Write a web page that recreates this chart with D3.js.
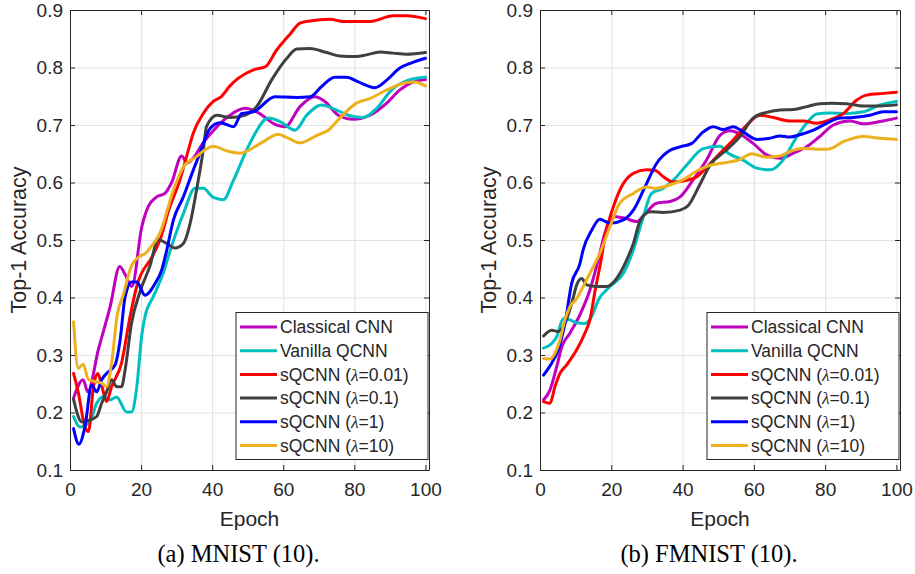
<!DOCTYPE html>
<html>
<head>
<meta charset="utf-8">
<script src="https://cdn.jsdelivr.net/npm/d3@7"></script>
<style>
  body { margin: 0; background: #fff; }
  svg { display: block; }
  text { font-family: "Liberation Sans", Arial, sans-serif; fill: #262626; }
  .caption { font-family: "Liberation Serif", "Times New Roman", serif; fill: #000; }
</style>
</head>
<body>
<div class="graph"></div>
<script>
// series labels and colors (MATLAB defaults)
const names = ['Classical CNN', 'Vanilla QCNN', 'sQCNN (λ=0.01)', 'sQCNN (λ=0.1)', 'sQCNN (λ=1)', 'sQCNN (λ=10)']
const colors = ['#bf00bf', '#00bfbf', '#ff0000', '#404040', '#0000ff', '#edb120']

const xTicks = [0, 20, 40, 60, 80, 100]
const yTicks = [0.1, 0.2, 0.3, 0.4, 0.5, 0.6, 0.7, 0.8, 0.9]

// MNIST (10): [epoch, top-1 accuracy]
const mnistCnn = [[1,0.225],[3.7,0.257],[5,0.236],[8,0.31],[11.3,0.384],[14,0.454],[15.5,0.44],[17.4,0.419],[20.2,0.523],[22,0.558],[24.4,0.575],[26.7,0.581],[28.6,0.6],[31.4,0.646],[33,0.634],[35,0.645],[37,0.665],[40.3,0.69],[45,0.717],[49.2,0.729],[52.5,0.723],[58.1,0.7],[60.5,0.697],[64.7,0.732],[68.9,0.749],[71.7,0.741],[75.5,0.717],[79.7,0.71],[84.4,0.717],[89.1,0.738],[92.8,0.761],[96.6,0.775],[100,0.779]]
const mnistVanilla = [[1,0.193],[2.8,0.175],[5.6,0.184],[7.5,0.216],[9.4,0.228],[11.2,0.222],[13.1,0.227],[15.9,0.201],[17.3,0.201],[18.8,0.245],[20.2,0.335],[21.1,0.367],[23.4,0.401],[26.2,0.442],[28.1,0.48],[31.9,0.546],[35.2,0.59],[37.5,0.59],[40.3,0.574],[43.1,0.57],[46,0.604],[50.6,0.668],[55.8,0.712],[59.1,0.706],[63.3,0.691],[66.6,0.717],[70.8,0.735],[75,0.726],[78.3,0.717],[82.5,0.713],[86.3,0.729],[90.5,0.761],[95.2,0.778],[100,0.783]]
const mnistL001 = [[1,0.268],[2.3,0.236],[4.2,0.175],[5.2,0.167],[6.6,0.245],[7.8,0.268],[9,0.245],[10.3,0.219],[11.7,0.245],[14.5,0.286],[16.9,0.367],[18.8,0.42],[23.4,0.474],[25.3,0.5],[28.1,0.558],[30.9,0.604],[32.8,0.645],[34.7,0.686],[37.5,0.72],[40.3,0.741],[42.5,0.749],[45,0.768],[47.3,0.781],[51.6,0.796],[54.9,0.801],[58.1,0.83],[61.9,0.858],[64.7,0.877],[67.5,0.881],[73.1,0.884],[76.9,0.88],[84.4,0.88],[90.9,0.89],[94.7,0.89],[100,0.885]]
const mnistL01 = [[1,0.223],[3.3,0.184],[5.6,0.187],[7.5,0.193],[8.9,0.216],[10.3,0.236],[11.7,0.257],[13.1,0.245],[14.5,0.245],[15.5,0.274],[17.3,0.355],[19.7,0.41],[22.5,0.455],[24.8,0.501],[27.2,0.494],[29.5,0.486],[31.9,0.494],[33.8,0.529],[35.6,0.587],[37.5,0.657],[38.4,0.697],[41.3,0.717],[45,0.713],[49.2,0.717],[52.5,0.732],[56.7,0.778],[61,0.816],[63.8,0.832],[67.5,0.833],[72.2,0.826],[75.9,0.82],[80.6,0.819],[83.4,0.822],[87.2,0.827],[90.9,0.825],[94.7,0.823],[100,0.826]]
const mnistL1 = [[1,0.172],[2.5,0.145],[4.2,0.175],[6.1,0.248],[7.5,0.236],[8.9,0.257],[10.3,0.268],[12.7,0.283],[14.1,0.326],[15.5,0.401],[17.4,0.427],[18.8,0.427],[21.1,0.404],[24,0.425],[25.8,0.448],[27.2,0.482],[29.1,0.535],[31.9,0.575],[34.7,0.622],[36.6,0.652],[39.4,0.694],[42.2,0.704],[46,0.697],[48.3,0.72],[51.6,0.723],[57.7,0.749],[63.8,0.748],[67.5,0.749],[70.8,0.767],[74.5,0.783],[77.8,0.783],[81.1,0.775],[85.8,0.765],[89.1,0.778],[92.8,0.799],[96.1,0.808],[100,0.816]]
const mnistL10 = [[1,0.358],[2.3,0.277],[3.7,0.284],[5.2,0.257],[7,0.254],[8.9,0.251],[10.3,0.245],[11.7,0.286],[13.3,0.37],[15,0.405],[17.3,0.455],[19.7,0.472],[21.1,0.476],[23,0.49],[25.3,0.512],[29.1,0.587],[31.9,0.627],[35.6,0.645],[38,0.657],[40.3,0.663],[44.1,0.655],[47.8,0.651],[54.4,0.671],[58.6,0.684],[61.4,0.677],[64.7,0.669],[69.8,0.683],[72.7,0.691],[75.9,0.712],[80.6,0.738],[84.4,0.746],[89.1,0.761],[94.7,0.774],[97,0.775],[100,0.768]]

// FMNIST (10)
const fmnistCnn = [[1,0.222],[2.8,0.239],[4.7,0.28],[6.1,0.314],[8.4,0.338],[11.2,0.37],[14,0.413],[16.2,0.462],[18.2,0.512],[20.6,0.541],[23.8,0.538],[27.1,0.532],[29.5,0.546],[32.7,0.564],[36.5,0.567],[39.3,0.575],[43,0.605],[46.8,0.64],[50.5,0.682],[53.3,0.69],[55.6,0.686],[59.8,0.668],[63.6,0.648],[67.3,0.642],[71.1,0.651],[74.8,0.662],[78.5,0.68],[82.3,0.7],[87,0.707],[90.7,0.702],[95.4,0.706],[100,0.712]]
const fmnistVanilla = [[1,0.312],[3.3,0.32],[4.7,0.332],[6.5,0.363],[8.4,0.361],[10.3,0.356],[12.6,0.355],[14.5,0.367],[16.4,0.396],[19.6,0.419],[23.4,0.442],[26.2,0.483],[29,0.541],[31.3,0.581],[34.6,0.59],[37.4,0.604],[41.1,0.63],[45.8,0.659],[50.5,0.663],[52.8,0.651],[57,0.639],[60.8,0.625],[64.5,0.622],[68.2,0.639],[71.5,0.674],[74.8,0.703],[77.6,0.719],[81.3,0.721],[86,0.72],[90.7,0.723],[95.4,0.735],[100,0.741]]
const fmnistL001 = [[1,0.219],[2.8,0.216],[4.2,0.245],[5.6,0.268],[7.5,0.283],[10.3,0.309],[12.6,0.338],[14,0.361],[15.4,0.41],[17.3,0.471],[18.2,0.505],[20.6,0.558],[22.9,0.593],[26.2,0.616],[29.9,0.622],[32.3,0.621],[34.6,0.61],[37.4,0.601],[41.2,0.604],[44,0.61],[46.8,0.627],[50.5,0.651],[54.2,0.674],[58,0.7],[61.7,0.717],[65.4,0.713],[70.1,0.707],[73.9,0.707],[77.6,0.703],[81.3,0.709],[85.1,0.72],[88.8,0.743],[91.6,0.752],[96.3,0.755],[100,0.757]]
const fmnistL01 = [[1,0.333],[3.3,0.343],[5.1,0.341],[7,0.355],[8.9,0.39],[10.3,0.422],[11.7,0.433],[13.1,0.422],[15.9,0.419],[18.7,0.419],[21.5,0.433],[24.3,0.465],[26.2,0.494],[28,0.532],[30.9,0.549],[34.6,0.548],[39.3,0.552],[41.6,0.56],[44.9,0.597],[47.7,0.63],[52.4,0.657],[56.1,0.68],[59.8,0.712],[63.6,0.722],[67.3,0.726],[71.1,0.727],[74.8,0.732],[78.5,0.737],[81.8,0.738],[86,0.737],[90.7,0.733],[95.4,0.733],[100,0.735]]
const fmnistL1 = [[1,0.265],[3.3,0.286],[5.1,0.309],[7,0.355],[8.9,0.425],[11.2,0.459],[12.1,0.483],[14.5,0.517],[16.8,0.536],[19.6,0.529],[23.4,0.535],[26.2,0.552],[29.5,0.593],[32.7,0.633],[36.5,0.656],[39.3,0.662],[42.6,0.668],[45.4,0.686],[48.6,0.697],[51.4,0.692],[54.2,0.697],[57,0.688],[60.8,0.675],[64.5,0.677],[67.3,0.681],[70.1,0.679],[72.9,0.683],[76.7,0.691],[80.4,0.703],[84.2,0.712],[87.9,0.713],[92.6,0.717],[96.3,0.723],[100,0.723]]
const fmnistL10 = [[1,0.294],[2.8,0.293],[4.2,0.303],[5.6,0.326],[7,0.361],[8.4,0.384],[10.3,0.398],[12.1,0.419],[13.5,0.436],[15,0.454],[16.8,0.477],[19.6,0.523],[22.4,0.564],[26.2,0.581],[29.9,0.592],[32.7,0.59],[36.5,0.596],[40.2,0.605],[44,0.62],[47.7,0.63],[51.4,0.634],[56.1,0.64],[59.4,0.65],[63.6,0.644],[67.3,0.646],[70.1,0.654],[73.9,0.659],[77.6,0.658],[80.9,0.658],[85.1,0.671],[90.7,0.68],[95.4,0.677],[100,0.675]]

const panels = [
  { left: 70, right: 429, caption: '(a) MNIST (10).', capX: 238.5,
    series: [mnistCnn, mnistVanilla, mnistL001, mnistL01, mnistL1, mnistL10] },
  { left: 540, right: 900, caption: '(b) FMNIST (10).', capX: 709,
    series: [fmnistCnn, fmnistVanilla, fmnistL001, fmnistL01, fmnistL1, fmnistL10] }
]

const width = 915, height = 574
const plotTop = 10, plotBottom = 470

const svg = d3.select('.graph')
  .append('svg')
  .attr('width', width)
  .attr('height', height)

panels.forEach(p => {
  const x = d3.scaleLinear().domain([0, 101]).range([p.left, p.right])
  const y = d3.scaleLinear().domain([0.1, 0.9]).range([plotBottom, plotTop])
  const g = svg.append('g')

  // grid
  g.append('g')
    .attr('transform', `translate(0,${plotBottom})`)
    .call(d3.axisBottom(x).tickValues(xTicks).tickSize(-(plotBottom - plotTop)).tickFormat(''))
    .call(a => a.select('.domain').remove())
    .call(a => a.selectAll('line').attr('stroke', '#e3e3e3'))
  g.append('g')
    .attr('transform', `translate(${p.left},0)`)
    .call(d3.axisLeft(y).tickValues(yTicks).tickSize(-(p.right - p.left)).tickFormat(''))
    .call(a => a.select('.domain').remove())
    .call(a => a.selectAll('line').attr('stroke', '#e3e3e3'))

  // lines
  const line = d3.line()
    .x(d => x(d[0]))
    .y(d => y(d[1]))
    .curve(d3.curveMonotoneX)

  p.series.forEach((s, i) => {
    g.append('path')
      .datum(s)
      .attr('d', line)
      .attr('fill', 'none')
      .attr('stroke', colors[i])
      .attr('stroke-width', 3)
      .attr('stroke-linejoin', 'round')
      .attr('stroke-linecap', 'round')
  })

  // axes (ticks inward, box on)
  g.append('g')
    .attr('class', 'axis')
    .attr('transform', `translate(0,${plotBottom})`)
    .call(d3.axisBottom(x).tickValues(xTicks).tickSizeInner(-5).tickSizeOuter(0).tickPadding(13))
  g.append('g')
    .attr('class', 'axis')
    .attr('transform', `translate(${p.left},0)`)
    .call(d3.axisLeft(y).tickValues(yTicks).tickFormat(d3.format('.1f')).tickSizeInner(-5).tickSizeOuter(0).tickPadding(7))
  g.append('g')
    .attr('class', 'axis')
    .attr('transform', `translate(0,${plotTop})`)
    .call(d3.axisTop(x).tickValues(xTicks).tickSizeInner(-5).tickSizeOuter(0).tickFormat(''))
  g.append('g')
    .attr('class', 'axis')
    .attr('transform', `translate(${p.right},0)`)
    .call(d3.axisRight(y).tickValues(yTicks).tickSizeInner(-5).tickSizeOuter(0).tickFormat(''))

  g.selectAll('.axis .domain, .axis .tick line').attr('stroke', '#262626')
  g.selectAll('.axis .tick text')
    .style('font-size', '19px')
    .style('font-family', '"Liberation Sans", Arial, sans-serif')
    .attr('fill', '#262626')

  // axis labels
  g.append('text')
    .text('Epoch')
    .attr('x', (p.left + p.right) / 2)
    .attr('y', 526)
    .attr('text-anchor', 'middle')
    .style('font-size', '21px')

  g.append('text')
    .text('Top-1 Accuracy')
    .attr('transform', `translate(${p.left - 44},${(plotTop + plotBottom) / 2}) rotate(-90)`)
    .attr('text-anchor', 'middle')
    .style('font-size', '21.5px')

  // legend
  const lx = p.right - 193, ly = 312.5
  const legend = g.append('g')
  legend.append('rect')
    .attr('x', lx).attr('y', ly)
    .attr('width', 192).attr('height', 147)
    .attr('fill', '#fff')
    .attr('stroke', '#262626')
    .attr('stroke-width', 1)

  names.forEach((n, i) => {
    const ry = ly + 14.5 + i * 23.7
    legend.append('line')
      .attr('x1', lx + 4).attr('x2', lx + 41)
      .attr('y1', ry).attr('y2', ry)
      .attr('stroke', colors[i])
      .attr('stroke-width', 3)
    const t = legend.append('text')
      .attr('x', lx + 44)
      .attr('y', ry)
      .attr('dy', '0.35em')
      .style('font-size', '17.5px')
    const parts = n.split('λ')
    t.append('tspan').text(parts[0])
    if (parts.length > 1) {
      t.append('tspan').text('λ')
        .style('font-style', 'italic')
        .style('font-family', '"Liberation Serif", serif')
      t.append('tspan').text(parts[1])
    }
  })

  // caption
  g.append('text')
    .attr('class', 'caption')
    .text(p.caption)
    .attr('x', p.capX)
    .attr('y', 562)
    .attr('text-anchor', 'middle')
    .style('font-size', '24.5px')
})
</script>
</body>
</html>
